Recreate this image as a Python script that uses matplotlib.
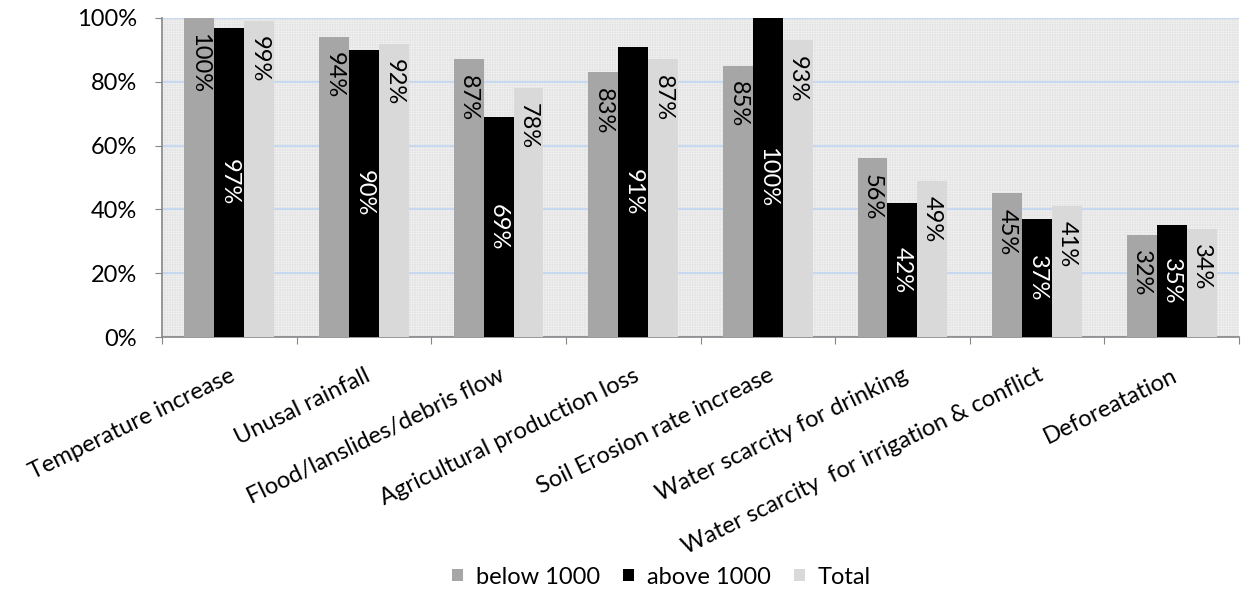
import matplotlib
matplotlib.use("Agg")
import matplotlib.pyplot as plt
import numpy as np

categories = ["Temperature increase", "Unusal rainfall", "Flood/lanslides/debris flow",
              "Agricultural production loss", "Soil Erosion rate increase",
              "Water scarcity for drinking", "Water scarcity  for irrigation & conflict",
              "Deforeatation"]
below_1000 = [100, 94, 87, 83, 85, 56, 45, 32]
above_1000 = [97, 90, 69, 91, 100, 42, 37, 35]
total = [99, 92, 78, 87, 93, 49, 41, 34]
series_names = ["below 1000", "above 1000", "Total"]
yticks = [0, 20, 40, 60, 80, 100]

plt.rcParams['font.family'] = ['Lato', 'DejaVu Sans']
plt.rcParams['hatch.linewidth'] = 0.4
plt.rcParams['hatch.color'] = '#e4e4e4'

FS = 17

fig = plt.figure(figsize=(12.46, 5.89), dpi=100)
ax = fig.add_axes([162/1246, 1-337/589, (1239-162)/1246, (337-18)/589])

ax.patch.set_facecolor('#f5f5f5')
ax.patch.set_hatch('+' * 10)
ax.patch.set_edgecolor('#e4e4e4')
ax.patch.set_linewidth(0)

x = np.arange(len(categories))
w = 1/4.5
colors = ['#a6a6a6', '#000000', '#d9d9d9']
data = [below_1000, above_1000, total]
for i, (vals, c, name) in enumerate(zip(data, colors, series_names)):
    xs = x + (i - 1) * w
    ax.bar(xs, vals, width=w, color=c, label=name, zorder=3)
    for xi, v in zip(xs, vals):
        if i == 1:
            ax.text(xi, v/2, f"{v}%", rotation=270, ha='center', va='center',
                    color='white', fontsize=FS, zorder=4)
        else:
            ax.annotate(f"{v}%", (xi, v), xytext=(0, -11), textcoords='offset points',
                        rotation=270, ha='center', va='top', color='black',
                        fontsize=FS, zorder=4)

ax.set_xlim(-0.5, len(categories) - 0.5)
ax.set_ylim(0, 100)
ax.set_yticks(yticks)
ax.set_yticklabels([f"{t}%" for t in yticks], fontsize=FS)
ax.yaxis.grid(True, color='#c6d9f1', linewidth=1.5, zorder=1)
ax.set_axisbelow(True)

ax.set_xticks(np.arange(len(categories) + 1) - 0.5, minor=False)
ax.set_xticklabels([])
ax.set_xticks(x, minor=True)
ax.set_xticklabels(categories, minor=True, rotation=26, ha='right',
                   rotation_mode='anchor', fontsize=FS)
ax.tick_params(axis='x', which='minor', length=0, pad=20)
ax.tick_params(axis='x', which='major', length=5, color='#868686', direction='out')
ax.tick_params(axis='y', length=5, color='#868686', direction='out', pad=13)

for s in ['top', 'right']:
    ax.spines[s].set_visible(False)
ax.spines['left'].set_color('#868686')
ax.spines['bottom'].set_color('#868686')
ax.spines['left'].set_linewidth(1.2)
ax.spines['bottom'].set_linewidth(1.2)

leg = fig.legend(loc='center', bbox_to_anchor=(0.531, 1-577/589), ncol=3, frameon=False,
                 fontsize=FS, handlelength=0.45, handleheight=0.45, handletextpad=0.55,
                 columnspacing=1.0)

fig.savefig("out.png", dpi=100)
